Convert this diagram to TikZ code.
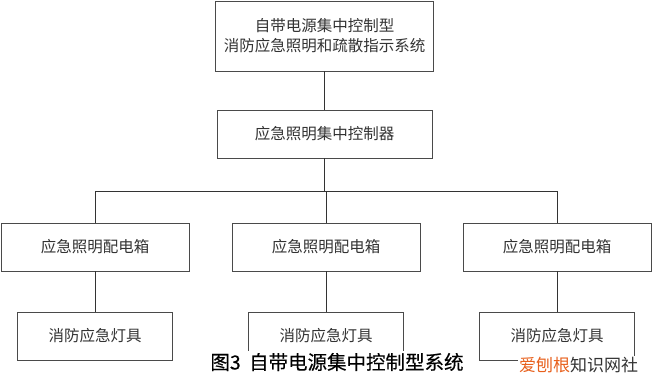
\documentclass[tikz,border=0pt]{standalone}
\usepackage{fontspec}
\newfontfamily\cjk{Noto Sans CJK SC}
\newfontfamily\cjkcap[FakeBold=0.3]{Noto Sans CJK SC}
\usetikzlibrary{positioning}
\definecolor{boxline}{HTML}{4A4A4A}
\definecolor{boxtext}{HTML}{333333}
\definecolor{wmorange}{HTML}{E8601C}

\begin{document}
\begin{tikzpicture}[x=1pt,y=-1pt,
  box/.style={draw=boxline,line width=0.9pt,text=boxtext,inner sep=0pt,align=center,
    font=\cjk\fontsize{15.5}{20}\selectfont},
  link/.style={draw=black!80,line width=0.9pt}]
  \useasboundingbox[fill=white] (0,0) rectangle (652,384);

  \node[box,minimum width=218pt,minimum height=70pt] (sys) at (324.5,36) {自带电源集中控制型\\消防应急照明和疏散指示系统};
  \node[box,minimum width=215pt,minimum height=48pt] (ctrl) at (324.5,134) {应急照明集中控制器};
  \coordinate (bus) at (324.5,191);

  \foreach \i/\x in {1/95,2/326,3/557} {
    \node[box,minimum width=188pt,minimum height=48pt] (dist\i) at (\x,247) {应急照明配电箱};
    \node[box,minimum width=155pt,minimum height=48pt] (lamp\i) at (\x,336) {消防应急灯具};
  }

  \draw[link] (sys) -- (ctrl);
  \draw[link] (ctrl) -- (bus);
  \foreach \i in {1,2,3} {
    \draw[link] (bus) -| (dist\i);
    \draw[link] (dist\i) -- (lamp\i);
  }

  \node[fill=white,inner xsep=4pt,inner ysep=2pt,font=\cjkcap\fontsize{19.5}{22}\selectfont] (cap) at (337,362) {图3\hspace{4pt} 自带电源集中控制型系统};
  \node[fill=white,inner sep=1pt,anchor=west,text=boxtext,font=\cjk\fontsize{17}{20}\selectfont] (wm) at (518,365) {\textcolor{wmorange}{爱刨根}知识网社};
\end{tikzpicture}
\end{document}
